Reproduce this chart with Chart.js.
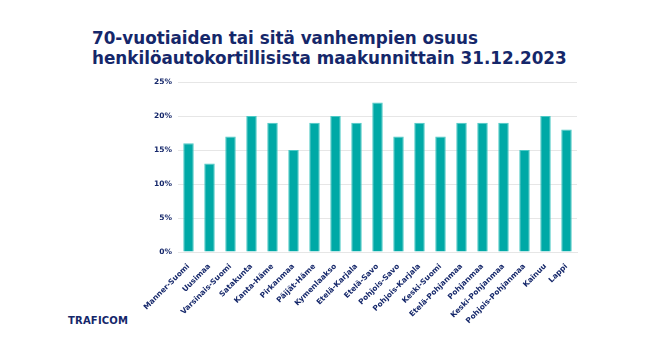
<!DOCTYPE html>
<html><head><meta charset="utf-8">
<script src="https://cdn.jsdelivr.net/npm/chart.js@4"></script>
<style>
html,body{margin:0;padding:0;background:#fff;}
#wrap{position:relative;width:671px;height:355px;overflow:hidden;}
#title{position:absolute;left:92px;top:28px;font-family:"DejaVu Sans",Verdana,sans-serif;font-weight:bold;font-size:16.8px;line-height:20px;color:#15276a;white-space:nowrap;}
#logo{position:absolute;left:68px;top:315px;font-family:"DejaVu Sans",sans-serif;font-weight:bold;font-size:10px;letter-spacing:0.2px;color:#15276a;}
canvas{position:absolute;left:0;top:0;}
</style></head>
<body><div id="wrap">
<div id="title">70-vuotiaiden tai sitä vanhempien osuus<br>henkilöautokortillisista maakunnittain 31.12.2023</div>
<div id="logo">TRAFICOM</div>
<canvas id="c" width="671" height="355"></canvas>
</div>
<script>
const categories = ["Manner-Suomi","Uusimaa","Varsinais-Suomi","Satakunta","Kanta-Häme","Pirkanmaa","Päijät-Häme","Kymenlaakso","Etelä-Karjala","Etelä-Savo","Pohjois-Savo","Pohjois-Karjala","Keski-Suomi","Etelä-Pohjanmaa","Pohjanmaa","Keski-Pohjanmaa","Pohjois-Pohjanmaa","Kainuu","Lappi"];
const shareValues = [16,13,17,20,19,15,19,20,19,22,17,19,17,19,19,19,15,20,18];
const yTicks = [0,5,10,15,20,25];

const navy = "#15276a";
new Chart(document.getElementById("c"), {
  type: "bar",
  data: {
    labels: categories,
    datasets: [{
      data: shareValues,
      backgroundColor: "#00a9a6",
      borderColor: "#4cc9c5",
      borderWidth: 1,
      categoryPercentage: 1,
      barPercentage: 0.5
    }]
  },
  options: {
    responsive: false,
    animation: false,
    layout: { padding: { left: 130, right: 94, top: 82, bottom: 0 } },
    plugins: { legend: { display: false }, tooltip: { enabled: false } },
    scales: {
      y: {
        min: 0, max: 25,
        afterBuildTicks: s => { s.ticks = yTicks.map(v => ({ value: v })); },
        afterFit: s => { s.width = 48; },
        border: { display: false },
        grid: { color: "#e6e6e6", lineWidth: 1, drawTicks: false },
        ticks: {
          padding: 6,
          color: navy,
          font: { family: "DejaVu Sans", weight: "bold", size: 7.5 },
          callback: v => v + "%"
        }
      },
      x: {
        afterFit: s => { s.height = 103; },
        border: { display: true, color: "#e6e6e6" },
        grid: { display: false },
        ticks: {
          autoSkip: false,
          minRotation: 45, maxRotation: 45,
          padding: 2,
          color: navy,
          font: { family: "DejaVu Sans", weight: "bold", size: 7.5 }
        }
      }
    }
  }
});
</script>
</body></html>
